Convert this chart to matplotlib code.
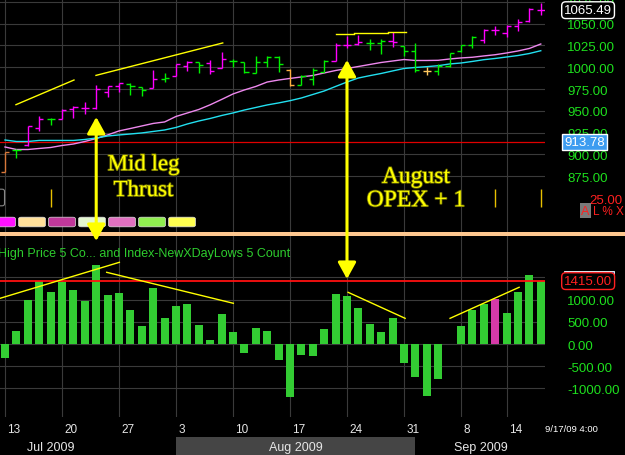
import matplotlib
matplotlib.use("Agg")
import matplotlib.pyplot as plt
import matplotlib.patches as mpatches
import matplotlib.transforms as mtrans
from matplotlib import patheffects

plt.rcParams['font.family'] = ['Liberation Sans', 'DejaVu Sans']

# trading days Jul 13 .. Sep 17 2009, index 0 = Jul 13
week_idx = [0, 5, 10, 15, 20, 25, 30, 35, 40, 44]
week_labels = ["13", "20", "27", "3", "10", "17", "24", "31", "8", "14"]
month_edges = [-7, 15, 36, 47.5]
month_labels = ["Jul 2009", "Aug 2009", "Sep 2009"]

opens = [880, 905.5, 911, 930, 940.5, 941, 952, 953, 953.5, 972, 978, 981, 977, 976, 987,
         989.5, 1002, 1005.5, 1005, 999, 1007.5, 1005.5, 993, 1006.5, 1011.5, 997, 979.5, 986.5,
         995, 1007.5, 1026, 1026.5, 1027.5, 1028, 1030, 1024, 1019, 995.5, 995.5, 1002, 1018.5,
         1025, 1031.5, 1043, 1039, 1047.5, 1052.5, 1066]
highs = [903, 906.5, 933, 944, 942, 952, 955.5, 960, 980, 979, 982, 982, 977, 997, 993.5,
         1003.5, 1007, 1005.5, 1008.5, 1017, 1009.5, 1005.5, 1012.5, 1012.5, 1012.5, 998, 991, 999,
         1008, 1028, 1035.5, 1037, 1032.5, 1032.5, 1040, 1024, 1028, 1000, 1003.5, 1016.5, 1025.5,
         1035.5, 1044, 1047, 1048.5, 1055.5, 1067.5, 1073.5]
lows = [880, 896, 910, 927, 934, 940.5, 942, 946.5, 952, 965.5, 972, 968, 967.5, 976, 983,
        989.5, 996, 993.5, 992.5, 999, 1000, 993.5, 993, 1000, 994.5, 979, 979.5, 979.5,
        995, 1007.5, 1022, 1025, 1020, 1015.5, 1023, 1012.5, 995, 991, 991, 1000.5, 1018,
        1022.5, 1027.5, 1037, 1034.5, 1042, 1051.5, 1060]
closes = [903, 905.5, 933, 941, 941, 951.5, 954, 953.5, 975, 979, 982, 979, 974.5, 986.5, 988,
          1003.5, 1005.5, 1002.5, 996, 1010, 1007.5, 994.5, 1006.5, 1011.5, 1003.5, 979.5, 989.5, 996.5,
          1007, 1025, 1026, 1028.5, 1027.5, 1030, 1028.5, 1019, 997, 995.5, 1002, 1016.5, 1025,
          1034.5, 1043, 1043, 1047.5, 1051.5, 1067, 1065.49]
bar_codes = ["b", "g", "m", "m", "g", "m", "m", "m", "m", "m", "m", "g", "g", "m", "g",
             "m", "m", "g", "m", "m", "g", "g", "g", "g", "g", "o", "g", "g", "g", "m",
             "m", "m", "g", "g", "m", "g", "g", "y", "g", "g", "g", "g", "m", "m", "m",
             "m", "m", "m"]
ma_fast = [908.6, 905.7, 905.7, 906.9, 908, 910.3, 912, 914.9, 918.3, 922.4, 927, 929.8, 932.7,
           935.6, 937.3, 943.6, 947.6, 951.6, 957, 963.1, 969.4, 974, 978, 983.1, 985.4, 987.2,
           988.9, 990.6, 993.5, 996.3, 998.6, 1000.9, 1003.2, 1005.5, 1007.2, 1008.9, 1007.8,
           1007.8, 1008, 1009.5, 1010.7, 1011.5, 1013, 1014.4, 1016.4, 1018.7, 1021.6, 1026.7]
ma_slow = [916.6, 914.9, 914.9, 916.1, 916.1, 916.1, 916.1, 917.2, 918.9, 921.2, 922.4, 923.5,
           924.7, 926.4, 928.1, 931, 935, 938.4, 941.3, 944.7, 947.6, 951, 953.9, 956.8, 959.1,
           961.7, 964.8, 968.8, 972.8, 978, 983.1, 987.7, 990.4, 992.9, 995.8, 998.6, 999.8,
           1000.7, 1001.8, 1003.8, 1004.9, 1006.7, 1008.7, 1010.1, 1011.8, 1013.5, 1015.8, 1019]
last_price = 1065.49
ref_price = 913.78
signal_days = [4, 43, 47]

counts = [-306, 291, 985, 1410, 1164, 1388, 1209, 962, 1768, 1097, 1141, 761, 403, 1253, 582,
          850, 895, 425, 90, 671, 269, -194, 358, 291, -351, -1201, -239, -261, 336, 1119,
          1074, 806, 448, 269, 582, -418, -731, -1179, -798, 0, 403, 761, 895, 1007, 694,
          1164, 1544, 1410]
count_codes = ["g"] * 43 + ["m"] + ["g"] * 4
count_ref = 1415

price_trends = [(0.96, 957.1, 6.05, 985.4), (7.98, 990.7, 19.1, 1027.9),
                (29.0, 1038.2, 30.6, 1038.2), (30.6, 1039.3, 33.6, 1039.3),
                (33.6, 1040.1, 35.2, 1040.1)]
count_trends = [(-0.44, 1028, 10.03, 1838), (8.92, 1613, 20.03, 916),
                (30.1, 1163, 35.1, 578), (39.04, 578, 45.1, 1276)]
# (day, price at top tip, count at bottom tip)
arrows = [(8, 943, 2317), (30, 1008.4, 1462)]

price_colors = {"m": "#ff00ff", "g": "#00f000", "o": "#ffb040", "y": "#ffc860", "b": "#d8783a"}
count_colors = {"g": "#33cc33", "m": "#d63aa8"}
grid_c = "#3a3a3a"
axis_green = "#1ee01e"

W, H = 625, 456
fig = plt.figure(figsize=(W / 100, H / 100), dpi=100, facecolor="black")
ax = fig.add_axes([0, 1 - 233 / H, 545 / W, 233 / H], facecolor="black")
ax2 = fig.add_axes([0, 1 - 418 / H, 545 / W, 181 / H], facecolor="black")

for a in (ax, ax2):
    a.set_xlim(-0.44, 47.37)
    a.set_xticks(week_idx)
    a.set_xticklabels([])
    a.tick_params(axis="x", length=0)
    a.yaxis.tick_right()
    a.tick_params(axis="y", length=0, pad=16, labelcolor=axis_green, labelsize=9.5)
    a.grid(True, color=grid_c, lw=0.8)
    a.set_axisbelow(True)
    for s in a.spines.values():
        s.set_visible(False)

# ---- price panel
ax.set_ylim(811.1, 1078.3)
ax.set_yticks([875 + 25 * k for k in range(9)])
ax.set_yticklabels(["%.2f" % (875 + 25 * k) for k in range(9)])
ax.axhline(ref_price, color="#e00000", lw=0.9)
days = range(len(closes))
ax.plot(days, ma_fast, color="#ee88ee", lw=1.0)
ax.plot(days, ma_slow, color="#22e0f0", lw=1.0)
for i in days:
    c = price_colors[bar_codes[i]]
    ax.vlines(i, lows[i], highs[i], color=c, lw=1.0)
    ax.hlines(opens[i], i - 0.36, i, color=c, lw=1.0)
    ax.hlines(closes[i], i, i + 0.36, color=c, lw=1.0)
for x0, y0, x1, y1 in price_trends:
    ax.plot([x0, x1], [y0, y1], color="#ffff00", lw=1.0)
ax.vlines(signal_days, 839.6, 860, color="#e8c000", lw=1.0)

tr = mtrans.blended_transform_factory(ax.transAxes, ax.transData)
ax.text(1.035, last_price, "%.2f" % last_price, transform=tr, color="white", fontsize=9.5,
        va="center", ha="left", zorder=10,
        bbox=dict(boxstyle="round,pad=0.18,rounding_size=0.3", fc="black", ec="white", lw=1))
ax.text(1.035, ref_price, "%.2f" % ref_price, transform=tr, color="white", fontsize=9.5,
        va="center", ha="left", zorder=10,
        bbox=dict(boxstyle="square,pad=0.15", fc="#3d9cf0", ec="white", lw=1))
ax.text(1.143, 847.8, "25.00", transform=tr, color="#ff2020", fontsize=9.5, ha="right", va="center")
ax.text(1.0743, 835.2, "A", transform=tr, color="#ff2020", fontsize=9, ha="center", va="center",
        bbox=dict(boxstyle="square,pad=0.12", fc="#7a7a7a", ec="none"))
ax.text(1.088, 835.2, "L % X", transform=tr, color="#ff2020", fontsize=8.5, ha="left", va="center")

serif_fx = [patheffects.withStroke(linewidth=1.2, foreground="#707000")]
ax.text(12.15, 873.5, "Mid leg\nThrust", color="#ffff00", fontsize=16.5, family="Liberation Serif",
        ha="center", va="center", linespacing=1.3, path_effects=serif_fx)
ax.text(36.05, 860.4, "August\nOPEX + 1", color="#ffff00", fontsize=17, family="Liberation Serif",
        ha="center", va="center", linespacing=1.15, path_effects=serif_fx)

# toolbar buttons along the bottom of the price panel
button_colors = ["#ff10ff", "#ffe09a", "#c0389a", "#e4f8d0", "#e070c0", "#90ee50", "#ffff50"]
for k, bc in enumerate(button_colors):
    x0 = -11 + 30 * k
    fig.add_artist(mpatches.FancyBboxPatch(((x0 + 2) / W, 1 - 226 / H), 22 / W, 6 / H,
                                           boxstyle="round,pad=0.004", transform=fig.transFigure,
                                           fc=bc, ec="#dddddd", lw=0.5, zorder=3))
fig.add_artist(mpatches.FancyBboxPatch((-12 / W, 1 - 205 / H), 14 / W, 13 / H,
                                       boxstyle="round,pad=0.004", transform=fig.transFigure,
                                       fc="black", ec="#888888", lw=0.8, zorder=3))

# ---- count panel
ax2.set_ylim(-1642, 2430)
ticks2 = [-1000, -500, 0, 500, 1000, 1500]
ax2.set_yticks(ticks2)
ax2.set_yticklabels(["%.2f" % t for t in ticks2])
ax2.bar(range(len(counts)), counts, width=0.7, color=[count_colors[c] for c in count_codes], zorder=2)
ax2.axhline(count_ref, color="#ff1010", lw=1.3, zorder=3)
for x0, y0, x1, y1 in count_trends:
    ax2.plot([x0, x1], [y0, y1], color="#ffff00", lw=1.0, zorder=4)
ax2.text(-0.003, 0.906, "High Price 5 Co... and Index-NewXDayLows 5 Count", transform=ax2.transAxes,
         color="#2ecc2e", fontsize=9, ha="left", va="center")

tr2 = mtrans.blended_transform_factory(ax2.transAxes, ax2.transData)
ax2.add_patch(mpatches.Rectangle((1.035, 1552), 0.092, 90, transform=tr2, fc="#3a7fd8",
                                 ec="white", lw=0.6, clip_on=False, zorder=9))
ax2.text(1.035, count_ref, "%.2f" % count_ref, transform=tr2, color="#ff2020", fontsize=9.5,
         va="center", ha="left", zorder=10,
         bbox=dict(boxstyle="round,pad=0.18,rounding_size=0.3", fc="black", ec="#ff2020", lw=1))

trx = mtrans.blended_transform_factory(ax2.transData, ax2.transAxes)
for i, lab in zip(week_idx, week_labels):
    ax2.text(i + 0.18, -0.068, lab, transform=trx, color="#e6e6e6", fontsize=8.5, ha="left", va="center")
ax2.add_patch(mpatches.Rectangle((month_edges[1], -0.21), month_edges[2] - month_edges[1], 0.1,
                                 transform=trx, fc="#454545", ec="none", clip_on=False))
for k, lab in enumerate(month_labels):
    ax2.text((month_edges[k] + month_edges[k + 1]) / 2, -0.165, lab, transform=trx, color="#e6e6e6",
             fontsize=9, ha="center", va="center")
ax2.text(1.0, -0.062, "9/17/09 4:00", transform=ax2.transAxes, color="white", fontsize=6.8,
         ha="left", va="center")

# separator between panels
fig.add_artist(mpatches.Rectangle((0, 1 - 237 / H), 1, 4 / H, transform=fig.transFigure,
                                  fc="#ffc890", ec="none", zorder=5))

for xd, ytop, ybot in arrows:
    con = mpatches.ConnectionPatch(xyA=(xd, ytop), coordsA=ax.transData, xyB=(xd, ybot),
                                   coordsB=ax2.transData,
                                   arrowstyle="<|-|>,head_length=1.0,head_width=0.55",
                                   mutation_scale=10, color="#ffff00", lw=2.2, zorder=6)
    fig.add_artist(con)

fig.savefig("out.png", dpi=100, facecolor="black")
